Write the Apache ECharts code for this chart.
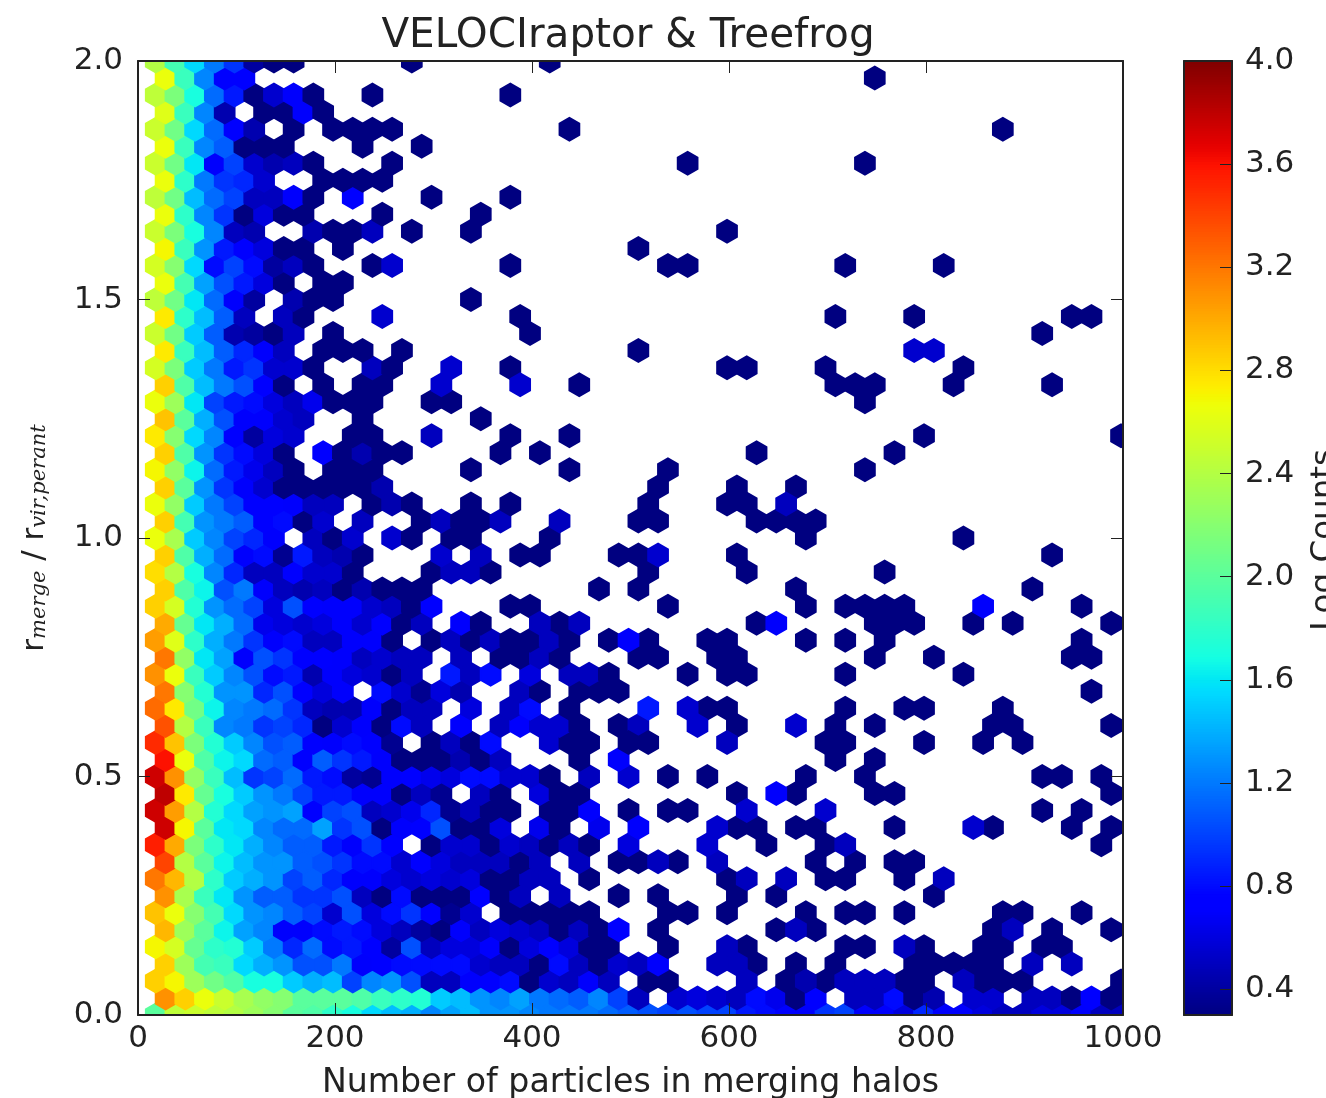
<!DOCTYPE html>
<html>
<head>
<meta charset="utf-8">
<style>html,body{margin:0;padding:0;background:#fff;overflow:hidden}#c{width:1326px;height:1098px;filter:blur(0.5px)}</style>
<script src="https://cdn.jsdelivr.net/npm/echarts@6/dist/echarts.min.js"></script>
</head>
<body>
<div id="c"></div>
<script>
// Log counts per hexagon row (row r sits at y = r * 2 / 56). Each list starts at column 1; 0 means empty bin.
const leftRows = [
/*0*/[2,2.45,2.5,2.45,2.4,2.3,2.2,2,1.95,1.8,1.7,1.55,1.45,1.4,1.25,1.35,1.45,1.3,1.3,1.25,1.2,1.2,1.2,1.15,1.1,1.05,1,1.05,1,1,.85,.8,.75,.7,.95,1,.7,.7,.6,.9,.7,.7,.6,.5,.5,.6,.6,.7,.5,.5],
/*1*/[3.1,2.85,2.65,2.5,2.35,2.25,2.2,2,2,2,1.95,1.85,1.8,1.75,1.5,1.45,1.3,1.25,1.35,1.2,1.15,1.1,1.25,1,.5,0,.55,.6,.55,.5,.8,.65,.3,.75,0,.5,.5,.8,.3,.45,0,.55,.55,0,.5,.5,.3,.75,.3],
/*2*/[2.85,2.7,2.3,2.1,1.95,1.7,1.7,1.5,1.4,1.45,1,1.25,1.3,1.05,.5,.5,.7,.75,.8,.3,.55,.5,.7,.5,0,.3,.3],
/*3*/[2.85,2.3,1.9,1.85,1.55,1.4,1.3,1.05,1.05,1.2,.7,.75,.8,.8,.8,.8,.55,.5,.5,.3,.8,.5,.3,.55,.5,.7],
/*4*/[2.7,2.55,2.05,1.8,1.75,1.5,1.2,.9,1.15,.8,.85,.75,.4,1.05,.5,.6,.6,.7,.3,.6,.75,.6,.3,.3],
/*5*/[2.95,2.3,2,1.65,1.35,1.25,.7,.7,.8,.85,.8,.6,.5,.4,.3,.7,.5,.6,.55,.5,.3,.5,.3,.75],
/*6*/[2.9,2.65,2.2,1.9,1.55,1.3,1.25,1.1,1,.55,1.05,.6,.8,.95,.75,.35,.55,0,.3,.3,.3,.3,.3],
/*7*/[3.1,2.35,1.85,1.6,1.3,1.1,1.1,.95,.95,1.05,.5,.3,.8,.3,.3,.3,.75,.3,.5,0,.5,0,0,.3],
/*8*/[3.2,2.95,2.4,1.8,1.5,1.4,1.3,1,1.1,.9,.7,.7,.6,.55,.6,.55,.6,.3,.3,.5,.5,0,.3],
/*9*/[3.4,2.4,2,1.65,1.45,1.3,1.3,1.1,1.05,.95,.8,.8,.55,.75,.6,.5,.5,.5,.3,.5,0,.5],
/*10*/[3.55,3,2.15,1.8,1.6,1.4,1.25,1.1,1.1,.85,.7,.95,.75,0,.3,.55,.55,.3,.55,.5,.3,.5,.3],
/*11*/[3.75,2.7,2,1.6,1.55,1.25,1.15,1.15,1.35,.95,1.05,.3,.7,.75,1.05,.3,.3,.6,0,.65,.3,0,.65],
/*12*/[3.75,3.05,2.4,1.75,1.55,1.35,1.3,1.35,.75,1,1.05,.5,.55,.65,.9,.35,.5,.3,.3,0,.3,.3,.7],
/*13*/[3.8,2.75,2.05,1.7,1.5,1.3,1.2,1,.85,.85,.7,.7,.3,.5,.35,0,.5,.3,0,.6,.3,.3],
/*14*/[3.75,3.1,2.25,1.85,1.45,.95,1,1.15,.85,.8,.4,.35,.7,.75,.65,.6,.8,.8,.55,.55,.3,0,.5,0,.55],
/*15*/[3.6,2.65,1.95,1.65,1.55,1.15,1.1,.75,1.1,.95,.85,.7,.3,.3,.3,.45,.3,.5,0,0,0,.3,0,.7],
/*16*/[3.5,2.9,2.15,1.75,1.5,1.25,1.05,1.1,.75,.7,.8,.75,.35,0,.3,.5,.3,.8,0,0,.55,.3,.3],
/*17*/[3.35,2.4,1.85,1.25,1.2,.95,1,.9,.3,.55,.7,.3,.8,.5,0,.7,0,.5,.7,.55,.55,.3,0,.3,.5],
/*18*/[3.25,2.75,2.1,1.65,1.25,1.2,1.15,.95,.5,.45,.45,.7,.3,.5,.5,0,.6,0,.5,.8,0,.3],
/*19*/[3.2,2.2,1.75,1.3,1.3,.9,1.05,.75,.6,.7,0,.8,.55,.35,.6,.45,0,0,.5,.3,0,.3,.3,.3],
/*20*/[3.1,2.65,1.85,1.5,1.25,1.05,.8,.85,.45,.7,.6,.55,.3,.5,0,.85,.5,.8,0,.6,0,.5,.5,.3],
/*21*/[3.2,2.25,1.6,1.35,.7,1.05,.95,.75,.75,.7,.5,.55,.5,.5,0,.5,0,.3,.3,.5,.3],
/*22*/[3.05,2.6,1.8,1.4,1.2,.95,.7,.8,.5,.5,.7,.7,.3,0,.3,.5,.3,.5,.3,.3,.5,.3],
/*23*/[3,2.05,1.6,1.4,1.15,.65,.6,.55,.6,.7,.55,.75,.3,.5,0,.7,.3],
/*24*/[2.85,2.55,1.75,1.3,1.15,1,.6,1.05,.75,.7,.7,.55,.5,.3,.75],
/*25*/[2.85,1.95,1.65,1.05,1.2,.7,.5,.45,.5,.3,.45,.3,.3,.3],
/*26*/[2.8,2.4,1.7,1.25,.9,.5,.5,.75,.55,.55,.3,0,0,0,.3,.5,.5,.3],
/*27*/[2.85,1.95,1.4,1.15,.7,.8,.35,.85,.5,.45,.3,0,0,0,.55,0,.5],
/*28*/[2.65,2.35,1.5,1.25,1,.9,.7,0,.5,.3,.55,0,.55,.3,0,.3,.3],
/*29*/[2.85,1.9,1.3,1.2,1.1,.75,.8,.3,.55,0,.5,0,0,.3,.5,.3,.3,.5],
/*30*/[2.65,2.25,1.5,1.2,1,.75,.75,.7,.5,.5,0,.3,.45,.3],
/*31*/[2.85,2,1.3,.95,.7,.55,.3,.3,.3,.3,.3,.45],
/*32*/[2.7,2.25,1.65,1.15,.85,.65,.5,.3,0,.3,.3,.3],
/*33*/[2.85,1.95,1.3,.95,.8,.6,.3,0,.75,.3,.45,.3,.3],
/*34*/[2.75,2.2,1.55,1.25,.75,.4,.6,.55,0,0,.3,.3],
/*35*/[2.9,2,1.4,1.05,.7,.7,.55,.5,0,0,.3],
/*36*/[2.65,2.3,1.6,1,.85,.8,.6,.5,.65,.3,.3,.3],
/*37*/[2.85,1.95,1.45,1.2,1.05,.75,.3,0,.3,0,.3,.3],
/*38*/[2.55,2.15,1.5,1.2,.85,.95,.55,.55,.3,0,0,.5,.3],
/*39*/[2.75,1.85,1.45,1.1,.9,.7,.5,0,.3,.3,.3,0,.3],
/*40*/[2.5,2.1,1.5,1.1,.45,.4,.3,.5,0,.3],
/*41*/[2.75,1.8,1.45,1.1,.5,0,.5,.3,0,0,0,.55],
/*42*/[2.45,2.1,1.6,1.15,.7,.4,0,.45,.3,.3],
/*43*/[2.65,1.9,1.35,1.05,.85,.6,.3,0,.3,.3],
/*44*/[2.55,2.2,1.55,.8,1,.8,.4,.5,.3,0,0,.3,.55],
/*45*/[2.7,1.85,1.3,.85,.75,.6,.3,.3,0,.3],
/*46*/[2.5,2.15,1.7,1.25,.5,.45,0,0,.45,.3,.3,.5,0,.3],
/*47*/[2.65,1.8,1.25,.95,.3,.6,.3,.3,0,0,0,.3],
/*48*/[2.45,2.1,1.45,1.15,1,.5,.5,.7,.3,0,.75],
/*49*/[2.65,1.8,1.2,.95,.9,.55,0,0,.3,.3,.3,.3],
/*50*/[2.5,2.1,1.6,.7,1,.55,.45,.5,.3,0,0,0,.3],
/*51*/[2.65,1.85,1.25,1.1,.3,.3,.3],
/*52*/[2.5,2.1,1.55,1.15,.75,.45,0,.3,0,.3,.3,.3,.3],
/*53*/[2.6,1.85,1.25,.45,0,.3,.3,.7,.3],
/*54*/[2.45,2.15,1.7,1.15,.85,.3,.55,.7,.3],
/*55*/[2.65,1.85,1.25,.75,.75],
/*56*/[2.4,1.9,1.55,1.2,.95,.4,.3,.3]
];
// x positions of isolated single-level hexagons, by row.
const singleLevel = 0.3;
const singleCells = [
[],[],[660,700,780,800,860,880,900,1000],[630,670,710,790,810,830,850,870],
[540,620,720,740,800,860,880,920,940],[530,650,690,870,930,990],[540,560,600,680,720,740,780,880,900,960],
[530,610,650,810],[600,700,720,780],[490,510,550,690,730,770,790],[640,700,980],
[610,630,670,690,770,870,950,990],[500,540,560,920,960],[610,670,750,770,990],[540,580,680,740,920,940,980],
[710,750],[500,520,700,720,800,860,900],[610,710,750,870,890,990],[580,600,720,780,800,880],[970],
[560,600,620,720,840],[510,530,590,610,750,810,950,970],[480,520,580,600,680,720,760,960],
[430,630,750,770,790,850,890,990],[380,400,540,680,720,740,760,780,960],[470,510,670,910],[520,620,760],
[390,410,490,510,610,930],[420,680,840],[510,530,630,650,670,690],[340,380,520,600,620],[530,610,670],
[340,440,540,740],[370,410,630,770],[380,440,800,1000],[350],[300,320,740],[450,710,730,750,830,930],
[380,600,620,700,840],[510],[400,920],[390,710,790,950,970],[340],[],[380,540,560,720,820],[510],[340,600],
[350],[300,380],[],[560,740],[230,290],[440,880],[],[240,380],[750],[280,420]
];
// Brighter isolated hexagons: [row, x, log count].
const brighterCells = [
[2,620,.5],[2,680,.45],[2,720,.5],[2,740,.5],[2,760,.5],[2,840,.5],[3,590,.5],[3,610,.5],[3,910,.5],[3,950,.5],
[4,600,.5],[4,780,.5],[5,670,.5],[5,890,.5],[8,620,.5],[8,660,.5],[8,820,.5],[9,530,.5],[9,590,.5],
[10,500,.6],[10,580,.55],[10,720,.5],[11,510,.7],[11,590,.55],[11,850,.55],[12,620,.55],[12,700,.55],[13,650,.7],
[16,600,.5],[17,570,.55],[17,670,.55],[18,520,.85],[18,560,.55],[22,500,.7],[23,410,.5],[23,450,.5],[23,650,.7],
[24,860,.7],[27,530,.55],[29,430,.5],[30,660,.5],[34,300,.5],[37,310,.55],[37,390,.55],[38,320,.55],[39,790,.55],[39,810,.55]
];
const colorbarTicks = [0.4,0.8,1.2,1.6,2.0,2.4,2.8,3.2,3.6,4.0];
const vMin = 0.3, vMax = 4.0;

const xShift = -2, binW = 20, binH = 2 / 28;
const hexPts = [[.5,-.5/3],[.5,.5/3],[0,1/3],[-.5,.5/3],[-.5,-.5/3],[0,-1/3]].map(p => [p[0]*binW, p[1]*binH]);
const hexData = [];
leftRows.forEach((row, r) => row.forEach((v, i) => {
  if (v > 0) hexData.push([20*(i+1) + (r%2 ? 10 : 0) + xShift, r*2/56, v]);
}));
singleCells.forEach((xs, r) => xs.forEach(x => hexData.push([x + xShift, r*2/56, singleLevel])));
brighterCells.forEach(c => hexData.push([c[1] + xShift, c[0]*2/56, c[2]]));

// matplotlib 'jet'
function lerpStops(st, t){ for(let i=1;i<st.length;i++){ if(t<=st[i][0]){const a=st[i-1],b=st[i];return a[1]+(b[1]-a[1])*(t-a[0])/(b[0]-a[0]);} } return st[st.length-1][1]; }
const jetR=[[0,0],[.35,0],[.66,1],[.89,1],[1,.5]], jetG=[[0,0],[.125,0],[.375,1],[.64,1],[.91,0],[1,0]], jetB=[[0,.5],[.11,1],[.34,1],[.65,0],[1,0]];
const jetColors=[]; for(let i=0;i<=128;i++){const t=i/128;jetColors.push('rgb('+[jetR,jetG,jetB].map(s=>Math.round(255*lerpStops(s,t))).join(',')+')');}
const barData=[]; for(let v=30;v<400;v++){barData.push([0,v/100,v/100+0.005]);}

const font='"DejaVu Sans"', ink='#222', lineC='#222', tickFs=31;
const chart = echarts.init(document.getElementById('c'), null, {renderer:'canvas'});
const frameAxis = (o) => Object.assign({type:'value',axisLine:{show:true,onZero:false,lineStyle:{color:lineC,width:2}},axisTick:{show:true,inside:true,length:12,lineStyle:{color:lineC,width:1}},splitLine:{show:false},z:5}, o);
chart.setOption({
  animation:false,
  backgroundColor:'#fff',
  title:{text:'VELOCIraptor & Treefrog',left:623,top:11,textAlign:'center',textStyle:{fontFamily:font,fontSize:40.5,fontWeight:'normal',color:ink}},
  grid:[{left:138,width:985,top:61,height:954,outerBoundsMode:'none',containLabel:false},{left:1184,width:48,top:61,height:954,outerBoundsMode:'none',containLabel:false}],
  visualMap:{show:false,type:'continuous',min:vMin,max:vMax,dimension:2,seriesIndex:[0,1],inRange:{color:jetColors}},
  graphic:[{type:'text',x:1325,y:540,rotation:Math.PI/2,style:{text:'Log Counts',align:'center',verticalAlign:'middle',fontFamily:font,fontSize:32.5,fill:ink}}],
  xAxis:[
    frameAxis({gridIndex:0,position:'bottom',min:0,max:1000,interval:200,axisLabel:{fontFamily:font,fontSize:tickFs,color:ink,margin:8,hideOverlap:false,formatter:v=>String(v)},
      name:'Number of particles in merging halos',nameLocation:'middle',nameGap:52,nameTextStyle:{fontFamily:font,fontSize:33.2,color:ink}}),
    frameAxis({gridIndex:0,position:'top',min:0,max:1000,interval:200,axisLabel:{show:false}}),
    frameAxis({gridIndex:1,position:'bottom',min:0,max:1,axisTick:{show:false},axisLabel:{show:false}}),
    frameAxis({gridIndex:1,position:'top',min:0,max:1,axisTick:{show:false},axisLabel:{show:false}})
  ],
  yAxis:[
    frameAxis({gridIndex:0,position:'left',min:0,max:2,interval:0.5,axisLabel:{fontFamily:font,fontSize:tickFs,color:ink,margin:15,formatter:v=>v.toFixed(1)},
      name:'{r|r}{s|merge}{r| / r}{s|vir,perant}',nameLocation:'middle',nameRotate:90,nameGap:88,
      nameTextStyle:{rich:{r:{fontFamily:font,fontSize:31,color:ink},s:{fontFamily:'"DejaVu Serif"',fontStyle:'italic',fontSize:21,color:ink,verticalAlign:'bottom',lineHeight:30}}}}),
    frameAxis({gridIndex:0,position:'right',min:0,max:2,interval:0.5,axisLabel:{show:false}}),
    frameAxis({gridIndex:1,position:'right',min:vMin,max:vMax,
      axisTick:{show:true,inside:true,length:12,lineStyle:{color:lineC,width:1},customValues:colorbarTicks},
      axisLabel:{fontFamily:font,fontSize:tickFs,color:ink,margin:13,customValues:colorbarTicks,formatter:v=>v.toFixed(1)}}),
    frameAxis({gridIndex:1,position:'left',min:vMin,max:vMax,axisTick:{show:false},axisLabel:{show:false}})
  ],
  series:[
    {type:'custom',coordinateSystem:'cartesian2d',xAxisIndex:0,yAxisIndex:0,clip:true,data:hexData,encode:{x:0,y:1},
     renderItem:(p,api)=>{const x=api.value(0),y=api.value(1),c=api.visual('color');
       return {type:'polygon',shape:{points:hexPts.map(o=>api.coord([x+o[0],y+o[1]]))},style:{fill:c,stroke:c,lineWidth:2}};}},
    {type:'custom',coordinateSystem:'cartesian2d',xAxisIndex:2,yAxisIndex:2,clip:true,data:barData,encode:{x:0,y:1},
     renderItem:(p,api)=>{const v=api.value(1),a=api.coord([0,v]),b=api.coord([1,v+0.01]);
       return {type:'rect',shape:{x:a[0],y:b[1]-0.5,width:b[0]-a[0],height:a[1]-b[1]+1},style:{fill:api.visual('color')}};}}
  ]
});
</script>
</body>
</html>
